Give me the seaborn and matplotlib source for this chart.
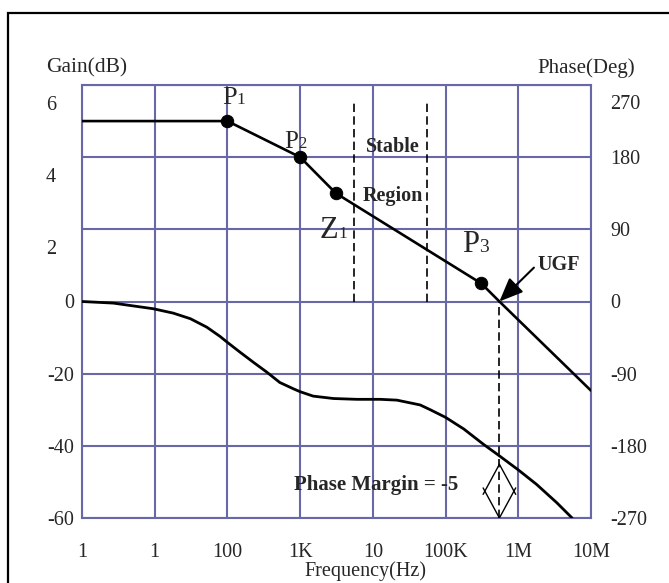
import numpy as np
import pandas as pd
import matplotlib
matplotlib.use("Agg")
import matplotlib.pyplot as plt
import seaborn as sns
from matplotlib.patches import Rectangle

# ---------------- data ----------------
freq_ticks = [1, 10, 100, 1e3, 1e4, 1e5, 1e6, 1e7]
freq_tick_labels = ["1", "1", "100", "1K", "10", "100K", "1M", "10M"]

gain_ticks = [6, 4, 2, 0, -20, -40, -60]
phase_ticks = [270, 180, 90, 0, -90, -180, -270]

gain_freq = [1, 100, 1000, 3100, 310000, 550000, 1e7]
gain_db = [5.0, 5.0, 4.0, 3.0, 0.5, 0.0, -24.7]

point_names = ["P", "P", "Z", "P"]
point_subs = ["1", "2", "1", "3"]
point_freq = [100, 1000, 3100, 310000]
point_gain = [5.0, 4.0, 3.0, 0.5]

phase_freq = [1, 2.7, 9.5, 18, 31, 52, 79, 100, 148, 229, 347, 525, 813,
              1000, 1510, 2880, 6030, 12600, 21400, 44700, 61700, 1e5,
              178000, 331000, 550000, 1e6, 1.78e6, 3.39e6, 5.5e6]
phase_deg = [0, -2, -9, -14.5, -21.5, -32, -43.5, -51, -63, -76, -88, -101,
             -109, -112.5, -118, -121, -122, -122, -123, -129, -135, -144.5,
             -159, -178, -192.5, -210, -228, -251, -270]

stable_lo, stable_hi = 5500, 56000
ugf_freq = 550000
ugf_phase = -203
margin_text = "Phase Margin = -5"


def gain_to_plot(g):
    g = np.asarray(g, dtype=float)
    return np.where(g >= 0, 45.0 * g, 4.5 * g)


# ---------------- style ----------------
W, H = 669, 583
sns.set_theme(style="white")
plt.rcParams["font.family"] = ["Liberation Serif", "DejaVu Serif"]
grid_c = "#6868a8"
fs = 14.5

fig = plt.figure(figsize=(W / 100, H / 100), dpi=100)
ax = fig.add_axes([82 / W, (H - 518) / H, (591 - 82) / W, (518 - 85) / H])

# outer frame (only left and top edges fall inside the picture)
fig.patches.append(Rectangle((8 / W, -0.2), 1.5, 1.2 - 13 / H,
                             transform=fig.transFigure, fill=False,
                             lw=1.6, ec="black", zorder=0))

gain_df = pd.DataFrame({"freq": gain_freq, "y": gain_to_plot(gain_db)})
phase_df = pd.DataFrame({"freq": phase_freq, "y": phase_deg})
pts_df = pd.DataFrame({"freq": point_freq, "y": gain_to_plot(point_gain)})

sns.lineplot(data=gain_df, x="freq", y="y", ax=ax, color="black", lw=1.9,
             zorder=4)
sns.lineplot(data=phase_df, x="freq", y="y", ax=ax, color="black", lw=2.0,
             zorder=4)
sns.scatterplot(data=pts_df, x="freq", y="y", ax=ax, color="black", s=80,
                edgecolor="black", zorder=5)

ax.set_xscale("log")
ax.set_xlim(freq_ticks[0], freq_ticks[-1])
ax.set_ylim(-270, 270)
ax.set_xticks(freq_ticks)
ax.set_xticklabels(freq_tick_labels, fontsize=fs)
ax.xaxis.set_minor_locator(matplotlib.ticker.NullLocator())
ax.set_yticks(phase_ticks)
ax.set_yticklabels([])
ax.tick_params(axis="both", length=0)
ax.tick_params(axis="x", pad=18)
ax.grid(True, color=grid_c, lw=1.5)
for sp in ax.spines.values():
    sp.set_color(grid_c)
    sp.set_linewidth(1.5)
ax.set_xlabel("Frequency(Hz)", fontsize=fs)
ax.set_ylabel("")
ax.xaxis.set_label_coords(0.556, -0.1)

# left gain labels
for g in gain_ticks:
    y = float(gain_to_plot(g))
    if g > 0:
        xa, ha, dy = (46 - 82) / 509, "left", -13
    else:
        xa, ha, dy = (74 - 82) / 509, "right", 0
    ax.annotate(str(g), xy=(xa, y), xycoords=("axes fraction", "data"),
                xytext=(0, dy), textcoords="offset points", ha=ha,
                va="center_baseline", fontsize=fs, annotation_clip=False)
# right phase labels
for p in phase_ticks:
    dy = -12 if p == 270 else 0
    ax.annotate(str(p), xy=((610 - 82) / 509, p),
                xycoords=("axes fraction", "data"), xytext=(0, dy),
                textcoords="offset points", ha="left",
                va="center_baseline", fontsize=fs, annotation_clip=False)

ax.text((46 - 82) / 509, (518 - 68) / 433, "Gain(dB)", transform=ax.transAxes,
        ha="left", va="center", fontsize=15.5)
ax.text((586 - 82) / 509, (518 - 68) / 433, "Phase(Deg)",
        transform=ax.transAxes, ha="center", va="center", fontsize=15)

# point labels
main_sizes = [19, 18, 22, 22]
sub_sizes = [12.5, 12, 12.5, 14]
offsets = [(6.5, 12.2), (-1.8, 6.5), (1.8, -32.4), (-1.8, 23)]
for name, sub, f, g, ms, ss, off in zip(point_names, point_subs, point_freq,
                                         point_gain, main_sizes, sub_sizes,
                                         offsets):
    y = float(gain_to_plot(g))
    ax.annotate(name, xy=(f, y), xytext=off, textcoords="offset points",
                ha="right", va="baseline", fontsize=ms, zorder=6)
    ax.annotate(sub, xy=(f, y), xytext=(off[0] + 0.3, off[1]),
                textcoords="offset points", ha="left", va="baseline",
                fontsize=ss, zorder=6)

# stable region
dash = (0, (5, 2.6))
ax.vlines([stable_lo, stable_hi], 0, 249, colors="black", lw=1.2,
          linestyles=[dash], zorder=3)
mid = np.sqrt(stable_lo * stable_hi)
ax.text(mid * 1.06, 196, "Stable", ha="center", va="center_baseline",
        fontsize=fs, fontweight="bold", zorder=6)
ax.text(mid * 1.09, 135, "Region", ha="center", va="center_baseline",
        fontsize=fs, fontweight="bold", zorder=6)

# UGF
ax.vlines([ugf_freq], -270, 0, colors="black", lw=1.2, linestyles=[dash],
          zorder=3)
ax.annotate("UGF", xy=(ugf_freq, 0), xytext=(10 ** 6.26, 45), ha="left",
            va="center", fontsize=fs, fontweight="bold", zorder=6,
            arrowprops=dict(arrowstyle="-|>,head_length=1.0,head_width=0.42",
                            lw=1.5, color="black", shrinkA=0, shrinkB=0,
                            relpos=(0, 0.55)))

# phase margin diamond
ld = np.log10(ugf_freq)
top = (ld, ugf_phase)
bot = (ld, -270)
side_y = (ugf_phase - 270) / 2
for sx in (ld - 0.2, ld + 0.2):
    for (tx, ty) in (top, bot):
        ex = sx + (sx - tx) * 0.12
        ey = side_y + (side_y - ty) * 0.12
        ax.plot([10 ** tx, 10 ** ex], [ty, ey], color="black", lw=1.0,
                zorder=4)
ax.text(10 ** 4.05, -226, margin_text, ha="center", va="center_baseline",
        fontsize=15, fontweight="bold", zorder=6)

fig.savefig("out.png", dpi=100)
